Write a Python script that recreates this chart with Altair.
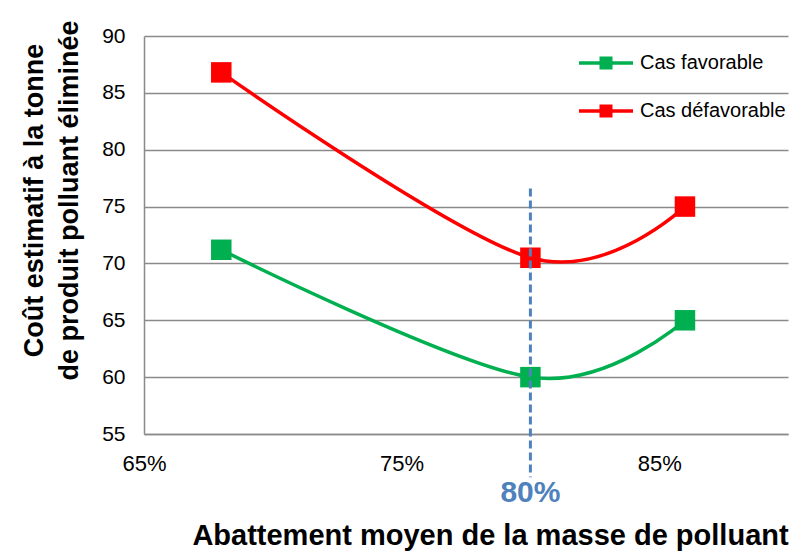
import altair as alt
import pandas as pd

# ---- data ----
x_vals = [0.68, 0.80, 0.86]
favorable = [71.2, 60.0, 65.0]
defavorable = [86.8, 70.5, 75.0]
series = ["Cas favorable", "Cas défavorable"]
series_colors = ["#00b050", "#ff0000"]
x_ticks = [0.65, 0.75, 0.85]
y_ticks = [55, 60, 65, 70, 75, 80, 85, 90]
marker_x = [0.80]
marker_y_top = [76.6]
marker_y_bottom = [51.2]
marker_label = ["80%"]
marker_label_y = [49.85]

rows = []
for s, vals in zip(series, [favorable, defavorable]):
    for xv, yv in zip(x_vals, vals):
        rows.append({"x": xv, "y": yv, "cas": s})
df = pd.DataFrame(rows)

mk = pd.DataFrame({"x": marker_x, "y": marker_y_top, "y2": marker_y_bottom,
                   "label": marker_label, "ly": marker_label_y})

FONT = "Liberation Sans"
xs = alt.Scale(domain=[0.65, 0.90], nice=False, zero=False)
ys = alt.Scale(domain=[55, 90], nice=False, zero=False)
cscale = alt.Scale(domain=series, range=series_colors)

x_axis = alt.Axis(values=x_ticks, format=".0%", grid=False, ticks=False, labelFlush=False,
                  labelFontSize=22, labelPadding=19, labelColor="black",
                  domainColor="#8a8a8a", domainWidth=1.5,
                  title="Abattement moyen de la masse de polluant",
                  titleFontSize=29, titleFontWeight="bold", titleColor="black",
                  titleX=346, titleY=110, titleBaseline="alphabetic", titleAlign="center")
y_axis = alt.Axis(values=y_ticks, grid=True, ticks=False, gridColor="#8a8a8a", gridWidth=1.5,
                  labelFontSize=21, labelPadding=19, labelColor="black",
                  domainColor="#8a8a8a", domainWidth=1.5,
                  title=["Coût estimatif à la tonne", "de produit polluant éliminée"],
                  titleFontSize=27, titleFontWeight="bold", titleColor="black",
                  titleLineHeight=35, titleX=-110, titleY=164,
                  titleAlign="center", titleBaseline="middle", titleAngle=270)

legend = alt.Legend(
    title=None, orient="none", legendX=449.5, legendY=14.5, padding=0,
    symbolType="M-2.16,-0.14H2.16V0.14H-2.16Z M-0.52,-0.52H0.52V0.52H-0.52Z",
    symbolSize=625, symbolStrokeWidth=0, symbolOpacity=1,
    labelFont=FONT, labelFontSize=20, labelColor="black", labelOffset=21.5,
    rowPadding=25, labelLimit=400,
)

base = alt.Chart(df)

points = base.mark_point(shape="square", filled=True, size=420, opacity=1).encode(
    x=alt.X("x:Q", scale=xs, axis=x_axis),
    y=alt.Y("y:Q", scale=ys, axis=y_axis),
    color=alt.Color("cas:N", scale=cscale, legend=legend),
)

lines = base.mark_line(interpolate="cardinal", strokeWidth=3.5).encode(
    x=alt.X("x:Q", scale=xs),
    y=alt.Y("y:Q", scale=ys),
    color=alt.Color("cas:N", scale=cscale, legend=legend),
    detail="cas:N",
)

rule = alt.Chart(mk).mark_rule(color="#4f81bd", strokeWidth=3, strokeDash=[8, 4]).encode(
    x=alt.X("x:Q", scale=xs),
    y=alt.Y("y:Q", scale=ys),
    y2="y2:Q",
)

label = alt.Chart(mk).mark_text(font=FONT, fontSize=30, fontWeight="bold", color="#4f81bd",
                                baseline="middle", align="center").encode(
    x=alt.X("x:Q", scale=xs),
    y=alt.Y("ly:Q", scale=ys),
    text="label:N",
)

chart = alt.layer(points, lines, rule, label).properties(
    width=644, height=398,
    padding={"left": 136, "top": 28, "right": 1, "bottom": 117},
    autosize=alt.AutoSizeParams(type="none"),
).configure(font=FONT).configure_view(stroke=None).configure_axis(
    labelFont=FONT, titleFont=FONT
)

chart.save("out.html", embed_options={"renderer": "svg", "actions": False})
